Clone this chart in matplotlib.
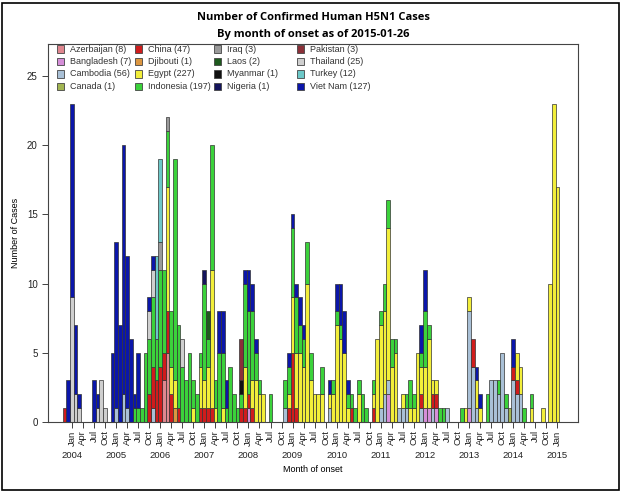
import pandas as pd
import matplotlib
matplotlib.use("Agg")
import matplotlib.pyplot as plt
from matplotlib.patches import Rectangle
from matplotlib.transforms import blended_transform_factory

plt.rcParams["font.family"] = ["Liberation Sans", "DejaVu Sans"]

# cases per month of onset
azerbaijan = {"2006-02": 3, "2006-03": 5}
bangladesh = {"2008-01": 1, "2011-03": 2, "2012-01": 1, "2012-02": 1, "2012-04": 1, "2013-01": 1}
cambodia = {"2005-01": 1, "2005-03": 2, "2005-04": 1, "2005-11": 1, "2008-11": 1, "2009-11": 1,
            "2011-01": 1, "2011-02": 2, "2011-03": 1, "2011-06": 1, "2011-07": 1, "2011-08": 1,
            "2011-12": 1, "2012-03": 1, "2012-07": 1, "2013-01": 7, "2013-02": 4, "2013-03": 1,
            "2013-07": 3, "2013-08": 3, "2013-09": 2, "2013-10": 5, "2013-11": 1, "2014-01": 3,
            "2014-02": 2, "2014-03": 2}
canada = {"2013-12": 1}
china = {"2003-11": 1, "2005-10": 2, "2005-11": 3, "2005-12": 3, "2006-01": 4, "2006-02": 2,
         "2006-03": 3, "2006-04": 2, "2006-06": 1, "2006-12": 1, "2007-01": 1, "2007-02": 1,
         "2007-03": 1, "2007-11": 1, "2007-12": 1, "2008-01": 1, "2008-02": 1, "2008-12": 1,
         "2009-01": 5, "2009-02": 1, "2010-05": 1, "2010-11": 1, "2011-12": 1, "2012-03": 1,
         "2012-04": 1, "2013-02": 2, "2014-01": 1, "2014-02": 1}
djibouti = {"2006-05": 1}
egypt = {"2006-03": 9, "2006-04": 2, "2006-05": 2, "2006-10": 1, "2006-12": 3, "2007-01": 2,
         "2007-02": 3, "2007-03": 10, "2007-04": 1, "2007-06": 1, "2007-12": 3, "2008-02": 2,
         "2008-03": 3, "2008-04": 2, "2008-05": 2, "2008-12": 1, "2009-01": 4, "2009-02": 4,
         "2009-03": 5, "2009-04": 4, "2009-05": 10, "2009-06": 3, "2009-07": 2, "2009-08": 2,
         "2009-09": 2, "2009-11": 1, "2009-12": 2, "2010-01": 7, "2010-02": 6, "2010-03": 5,
         "2010-04": 1, "2010-07": 2, "2010-11": 1, "2010-12": 6, "2011-01": 6, "2011-02": 6,
         "2011-03": 11, "2011-04": 4, "2011-05": 5, "2011-07": 1, "2011-09": 1, "2011-10": 1,
         "2011-11": 5, "2011-12": 2, "2012-01": 3, "2012-02": 5, "2012-03": 1, "2012-04": 1,
         "2012-12": 1, "2013-01": 1, "2013-03": 2, "2013-04": 1, "2014-02": 2, "2014-03": 2,
         "2014-06": 1, "2014-09": 1, "2014-11": 10, "2014-12": 23, "2015-01": 17}
indonesia = {"2005-06": 1, "2005-07": 1, "2005-08": 1, "2005-09": 5, "2005-10": 4, "2005-11": 5,
             "2005-12": 3, "2006-01": 7, "2006-02": 6, "2006-03": 4, "2006-04": 4, "2006-05": 16,
             "2006-06": 6, "2006-07": 4, "2006-08": 3, "2006-09": 5, "2006-10": 2, "2006-11": 2,
             "2006-12": 1, "2007-01": 7, "2007-02": 2, "2007-03": 9, "2007-04": 2, "2007-05": 5,
             "2007-06": 4, "2007-07": 1, "2007-08": 4, "2007-09": 2, "2007-10": 1, "2007-11": 1,
             "2007-12": 6, "2008-01": 6, "2008-02": 5, "2008-03": 2, "2008-04": 1, "2008-07": 2,
             "2008-11": 2, "2008-12": 2, "2009-01": 5, "2009-02": 4, "2009-03": 2, "2009-04": 2,
             "2009-05": 3, "2009-06": 2, "2009-09": 2, "2009-12": 1, "2010-01": 1, "2010-02": 1,
             "2010-04": 1, "2010-05": 1, "2010-06": 1, "2010-07": 1, "2010-08": 2, "2010-09": 1,
             "2010-11": 1, "2011-01": 1, "2011-02": 2, "2011-03": 2, "2011-04": 2, "2011-05": 1,
             "2011-08": 1, "2011-09": 2, "2011-10": 1, "2011-12": 1, "2012-01": 4, "2012-02": 1,
             "2012-05": 1, "2012-06": 1, "2012-11": 1, "2013-06": 2, "2013-09": 1, "2013-11": 1,
             "2014-04": 1, "2014-06": 1}
iraq = {"2006-01": 2, "2006-03": 1}
laos = {"2007-02": 2}
myanmar = {"2007-11": 1}
nigeria = {"2007-01": 1}
pakistan = {"2007-11": 3}
thailand = {"2004-01": 9, "2004-02": 2, "2004-03": 1, "2004-08": 1, "2004-09": 3, "2004-10": 1,
            "2005-10": 2, "2005-11": 2, "2006-07": 2}
turkey = {"2005-12": 6, "2006-01": 6}
viet_nam = {"2003-12": 3, "2004-01": 14, "2004-02": 5, "2004-03": 1, "2004-07": 3, "2004-08": 1,
            "2004-12": 5, "2005-01": 12, "2005-02": 7, "2005-03": 18, "2005-04": 11, "2005-05": 6,
            "2005-06": 1, "2005-07": 4, "2005-10": 1, "2005-11": 1, "2007-05": 3, "2007-06": 3,
            "2007-07": 2, "2007-12": 1, "2008-01": 3, "2008-02": 2, "2008-03": 1, "2008-12": 1,
            "2009-01": 1, "2009-02": 1, "2009-03": 2, "2009-04": 1, "2009-11": 1, "2010-01": 2,
            "2010-02": 3, "2010-03": 3, "2010-04": 1, "2011-12": 2, "2012-01": 3, "2013-03": 1,
            "2013-04": 1, "2014-01": 2}

countries = ["Azerbaijan", "Bangladesh", "Cambodia", "Canada", "China", "Djibouti", "Egypt",
             "Indonesia", "Iraq", "Laos", "Myanmar", "Nigeria", "Pakistan", "Thailand",
             "Turkey", "Viet Nam"]
case_totals = [8, 7, 56, 1, 47, 1, 227, 197, 3, 2, 1, 1, 3, 25, 12, 127]
series = [azerbaijan, bangladesh, cambodia, canada, china, djibouti, egypt, indonesia, iraq,
          laos, myanmar, nigeria, pakistan, thailand, turkey, viet_nam]
colors = ["#E0868F", "#D58ED8", "#A9C0D6", "#A2B552", "#D01C1C", "#DC9640", "#F2EE3A",
          "#3BD23B", "#9A9A9A", "#1E5A1E", "#111111", "#14145C", "#8B3038", "#CFCFCF",
          "#6CC8C8", "#0B16AA"]

months = pd.period_range("2003-11", "2015-01", freq="M")
df = pd.DataFrame({c: pd.Series(s) for c, s in zip(countries, series)})
df.index = pd.PeriodIndex(df.index, freq="M")
df = df.reindex(months).fillna(0)

fig = plt.figure(figsize=(6.22, 4.92), dpi=100)
ax = fig.add_axes([48 / 622, 70 / 492, 530 / 622, 378 / 492])

x = pd.Series(range(len(months)), index=months)
bottom = pd.Series(0.0, index=months)
for name, col in zip(countries, colors):
    v = df[name]
    nz = v > 0
    ax.bar(x[nz], v[nz], bottom=bottom[nz], width=1.0, color=col,
           edgecolor="#333333", linewidth=0.5)
    bottom += v

ax.set_xlim(-4.5, 139.6)
ax.set_ylim(0, 27.3)
for s in ax.spines.values():
    s.set_color("#444444")
    s.set_linewidth(0.8)

ax.set_yticks(range(0, 26, 5))
ax.tick_params(axis="y", labelsize=7, length=4, width=0.6, colors="#222222")

quarters = [i for i, p in enumerate(months) if p.month in (1, 4, 7, 10) and p.year >= 2004]
ax.set_xticks(quarters)
ax.set_xticklabels([months[i].strftime("%b") for i in quarters], rotation=90, fontsize=6.8)
ax.tick_params(axis="x", length=4, width=0.6, pad=2, colors="#222222")

trans = blended_transform_factory(ax.transData, ax.transAxes)
for i in quarters:
    if months[i].month == 1:
        ax.text(i, -0.088, str(months[i].year), transform=trans, ha="center", va="center",
                fontsize=6.8, color="#222222")

ax.set_xlabel("Month of onset", fontsize=6.5, labelpad=14)
ax.set_ylabel("Number of Cases", fontsize=6.5, labelpad=5)

# legend, four columns like the original
col_x = [57, 135, 214, 297]
row_y = [49, 61.5, 74, 86.5]
for k, (name, n, col) in enumerate(zip(countries, case_totals, colors)):
    cx, ry = col_x[k // 4], row_y[k % 4]
    fig.patches.append(Rectangle((cx / 622, 1 - (ry + 3.5) / 492), 7 / 622, 7 / 492,
                                 transform=fig.transFigure, facecolor=col,
                                 edgecolor="#444444", linewidth=0.6))
    fig.text((cx + 13) / 622, 1 - ry / 492, f"{name} ({n})", fontsize=6.5,
             color="#333333", va="center")

fig.text(313 / 622, 1 - 18 / 492, "Number of Confirmed Human H5N1 Cases",
         ha="center", va="center", fontsize=8, fontweight="bold", family="Open Sans")
fig.text(313 / 622, 1 - 34 / 492, "By month of onset as of 2015-01-26",
         ha="center", va="center", fontsize=8, fontweight="bold", family="Open Sans")

fig.patches.append(Rectangle((2 / 622, 2 / 492), 617 / 622, 487 / 492,
                             transform=fig.transFigure, fill=False,
                             edgecolor="black", linewidth=1.2))

fig.savefig("out.png", dpi=100)
